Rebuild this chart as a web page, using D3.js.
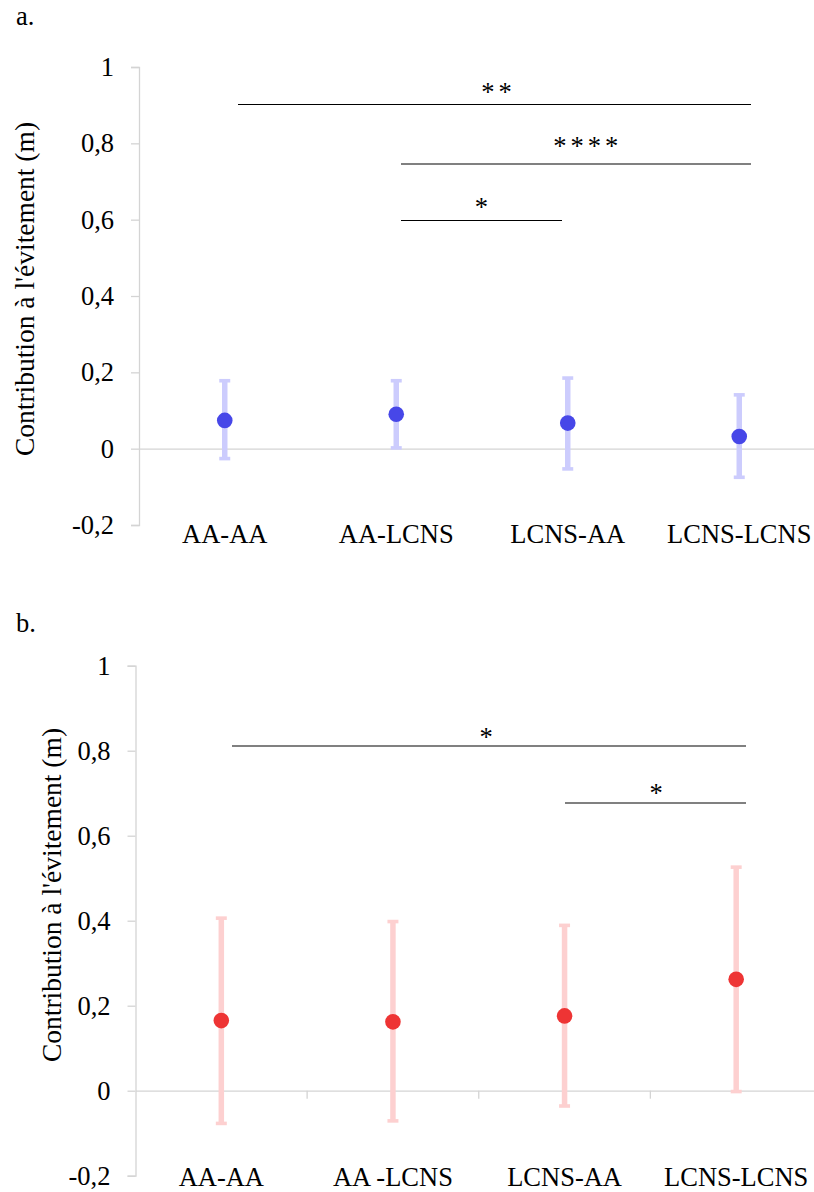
<!DOCTYPE html>
<html>
<head>
<meta charset="utf-8">
<script src="https://cdn.jsdelivr.net/npm/d3@7"></script>
<style>
  html, body { margin: 0; padding: 0; background: #fff; }
  svg { display: block; }
  text { font-family: "Liberation Serif", "Times New Roman", serif; fill: #000; }
</style>
</head>
<body>
<svg id="chart" width="814" height="1192"></svg>
<script>
// ---------- data ----------
const categoriesA = ["AA-AA", "AA-LCNS", "LCNS-AA", "LCNS-LCNS"];
const categoriesB = ["AA-AA", "AA -LCNS", "LCNS-AA", "LCNS-LCNS"];
const yTicks = [-0.2, 0, 0.2, 0.4, 0.6, 0.8, 1];
const yTickLabels = ["-0,2", "0", "0,2", "0,4", "0,6", "0,8", "1"];
const yTitle = "Contribution à l'évitement (m)";

const meanA = [0.074, 0.090, 0.067, 0.032];
const upperA = [0.178, 0.178, 0.185, 0.141];
const lowerA = [-0.026, 0.002, -0.053, -0.075];

const meanB = [0.165, 0.162, 0.176, 0.262];
const upperB = [0.406, 0.398, 0.389, 0.526];
const lowerB = [-0.077, -0.071, -0.036, -0.002];

// significance brackets: [from index, to index, y level, label, label index, label y]
const sigFromA = [0.077, 1.025, 1.025];
const sigToA = [3.07, 3.07, 1.965];
const sigYA = [0.903, 0.745, 0.598];
const sigLabelA = ["**", "****", "*"];
const sigLabelXA = [1.585, 2.105, 1.497];
const sigLabelYA = [0.947, 0.806, 0.647];
const sigStyleA = ["black", "gray", "black"];

const sigFromB = [0.065, 2.0];
const sigToB = [3.06, 3.06];
const sigYB = [0.812, 0.678];
const sigLabelB = ["*", "*"];
const sigLabelXB = [1.543, 2.533];
const sigLabelYB = [0.844, 0.712];
const sigStyleB = ["gray", "gray"];

// ---------- drawing ----------
const svg = d3.select("#chart");
const FONT = 26.5;

function panel(cfg) {
  const g = svg.append("g");
  const x = d3.scaleBand().domain(cfg.cats).range([cfg.left, cfg.right]).padding(0);
  const y = d3.scaleLinear().domain([-0.2, 1]).range([cfg.bottom, cfg.top]);
  const xi = i => x(cfg.cats[0]) + x.bandwidth() / 2 + i * x.step();

  // panel letter
  g.append("text").attr("x", 16).attr("y", cfg.letterY)
    .attr("font-size", FONT).text(cfg.letter);

  // y axis
  const yAxis = d3.axisLeft(y).tickValues(yTicks)
    .tickFormat(d => yTickLabels[yTicks.indexOf(d)])
    .tickSize(8).tickPadding(17);
  const ya = g.append("g").attr("transform", `translate(${cfg.left},0)`).call(yAxis);
  ya.attr("font-family", null);
  ya.select(".domain").attr("stroke", "#d4d4d4").attr("stroke-width", 1.3);
  ya.selectAll(".tick line").attr("stroke", "#d4d4d4").attr("stroke-width", 1.3);
  ya.selectAll(".tick text").attr("font-size", FONT)
    .attr("fill", "#000").attr("dy", "0.32em");

  // x axis at zero
  const xAxis = d3.axisBottom(x).tickSize(0).tickFormat("");
  const xa = g.append("g").attr("transform", `translate(0,${y(0)})`).call(xAxis);
  xa.select(".domain").attr("stroke", "#d4d4d4").attr("stroke-width", 1.3);
  xa.selectAll(".tick").remove();
  if (cfg.boundaryTicks) {
    g.selectAll(".bt").data(cfg.cats.slice(1)).enter().append("line")
      .attr("x1", d => x(d)).attr("x2", d => x(d))
      .attr("y1", y(0)).attr("y2", y(0) + 8)
      .attr("stroke", "#d4d4d4").attr("stroke-width", 1.3);
  }

  // category labels
  g.selectAll(".cat").data(cfg.cats).enter().append("text")
    .attr("x", d => x(d) + x.bandwidth() / 2)
    .attr("y", cfg.catY)
    .attr("text-anchor", "middle").attr("font-size", FONT)
    .text(d => d);

  // y title
  g.append("text")
    .attr("transform", `translate(${cfg.titleX},${cfg.titleY}) rotate(-90)`)
    .attr("text-anchor", "middle").attr("font-size", cfg.titleSize)
    .text(yTitle);

  // error bars
  const cx = (d, i) => x(cfg.cats[i]) + x.bandwidth() / 2;
  g.selectAll(".eb").data(cfg.mean).enter().append("line")
    .attr("x1", cx).attr("x2", cx)
    .attr("y1", (d, i) => y(cfg.upper[i])).attr("y2", (d, i) => y(cfg.lower[i]))
    .attr("stroke", cfg.barColor).attr("stroke-width", 5.5);
  ["upper", "lower"].forEach(k => {
    g.selectAll(".cap" + k).data(cfg[k]).enter().append("line")
      .attr("x1", (d, i) => cx(d, i) - 5.5).attr("x2", (d, i) => cx(d, i) + 5.5)
      .attr("y1", d => y(d)).attr("y2", d => y(d))
      .attr("stroke", cfg.barColor).attr("stroke-width", 3.6);
  });
  g.selectAll(".dot").data(cfg.mean).enter().append("circle")
    .attr("cx", cx).attr("cy", d => y(d)).attr("r", 7.8)
    .attr("fill", cfg.dotColor);

  // significance brackets
  cfg.sigY.forEach((v, i) => {
    const gray = cfg.sigStyle[i] === "gray";
    const yy = gray ? Math.round(y(v)) : Math.round(y(v)) + 0.5;
    g.append("line")
      .attr("x1", xi(cfg.sigFrom[i])).attr("x2", xi(cfg.sigTo[i]))
      .attr("y1", yy).attr("y2", yy)
      .attr("stroke", gray ? "#808080" : "#000")
      .attr("stroke-width", gray ? 2.2 : 1.1)
      .attr("shape-rendering", "crispEdges");
    g.append("text")
      .attr("x", xi(cfg.sigLabelX[i]) + 2)
      .attr("y", y(cfg.sigLabelY[i]) + 14)
      .attr("text-anchor", "middle").attr("font-size", FONT)
      .attr("letter-spacing", 4)
      .text(cfg.sigLabel[i]);
  });
}

panel({
  letter: "a.", letterY: 25,
  cats: categoriesA, left: 139, right: 825, top: 67, bottom: 525,
  mean: meanA, upper: upperA, lower: lowerA,
  barColor: "#ccccfd", dotColor: "#4747e8",
  catY: 543, titleX: 34, titleY: 289, titleSize: 27.5,
  boundaryTicks: false,
  sigFrom: sigFromA, sigTo: sigToA, sigY: sigYA, sigLabel: sigLabelA,
  sigLabelX: sigLabelXA, sigLabelY: sigLabelYA, sigStyle: sigStyleA
});

panel({
  letter: "b.", letterY: 632,
  cats: categoriesB, left: 135.5, right: 822, top: 665.7, bottom: 1175.7,
  mean: meanB, upper: upperB, lower: lowerB,
  barColor: "#fdd0d0", dotColor: "#ee3434",
  catY: 1186, titleX: 61, titleY: 895, titleSize: 27.5,
  boundaryTicks: true,
  sigFrom: sigFromB, sigTo: sigToB, sigY: sigYB, sigLabel: sigLabelB,
  sigLabelX: sigLabelXB, sigLabelY: sigLabelYB, sigStyle: sigStyleB
});
</script>
</body>
</html>
